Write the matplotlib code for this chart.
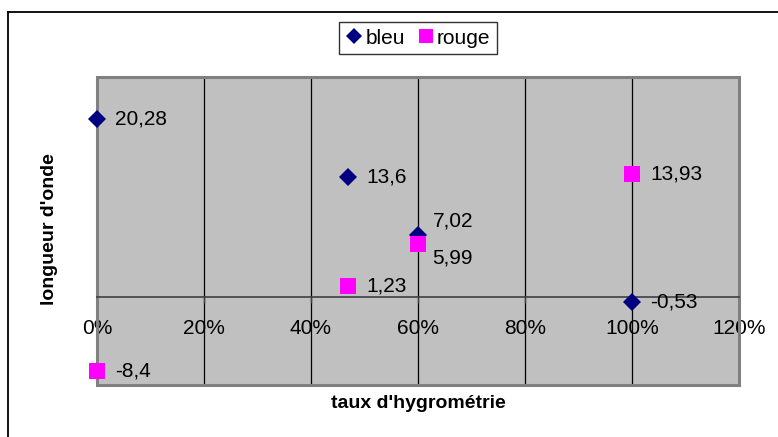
import matplotlib
matplotlib.use("Agg")
import matplotlib.pyplot as plt
from matplotlib.lines import Line2D
from matplotlib.patches import Rectangle

plt.rcParams["font.family"] = ["Liberation Sans", "DejaVu Sans"]

# ---- data ------------------------------------------------------------------
bleu_x = [0.0, 0.47, 0.60, 1.00]
bleu_y = [20.28, 13.6, 7.02, -0.53]
rouge_x = [0.0, 0.47, 0.60, 1.00]
rouge_y = [-8.4, 1.23, 5.99, 13.93]

x_ticks = [0.0, 0.2, 0.4, 0.6, 0.8, 1.0, 1.2]
x_ticklabels = ["0%", "20%", "40%", "60%", "80%", "100%", "120%"]

# label offsets (points) -- Excel "right" position, two moved by hand
bleu_off = [(13, 0), (13, 0), (11, 10), (13, 0)]
rouge_off = [(13, 0), (13, 0), (10, -10), (13, 0)]


def fr(v):
    return str(v).replace(".", ",")


# ---- plot ------------------------------------------------------------------
fig = plt.figure(figsize=(7.78, 4.37), dpi=100)
ax = fig.add_axes([97 / 778, 52 / 437, 642 / 778, 308 / 437])
ax.set_facecolor("#C0C0C0")
ax.set_xlim(0, 1.2)
ax.set_ylim(-10, 25)

ax.grid(axis="x", color="black", lw=0.9, zorder=1)
ax.set_axisbelow(True)

ax.plot(bleu_x, bleu_y, ls="none", marker="D", ms=9.6, color="#000080",
        mec="#000080", mew=0, label="bleu", zorder=3, clip_on=False)
ax.plot(rouge_x, rouge_y, ls="none", marker="s", ms=11.2, color="#FF00FF",
        mec="#FF00FF", mew=0, label="rouge", zorder=4, clip_on=False)

for x, y, off in zip(bleu_x, bleu_y, bleu_off):
    ax.annotate(fr(y), (x, y), xytext=off, textcoords="offset points",
                ha="left", va="center", fontsize=15, zorder=5)
for x, y, off in zip(rouge_x, rouge_y, rouge_off):
    ax.annotate(fr(y), (x, y), xytext=off, textcoords="offset points",
                ha="left", va="center", fontsize=15, zorder=5)

# x axis crosses at y=0, y axis hidden
for s in ["left", "right", "top"]:
    ax.spines[s].set_visible(False)
ax.spines["bottom"].set_position(("data", 0))
ax.spines["bottom"].set_color("#404040")
ax.spines["bottom"].set_linewidth(1.2)
ax.set_xticks(x_ticks)
ax.set_xticklabels(x_ticklabels)
ax.tick_params(axis="x", direction="out", length=4, width=1, color="#404040",
               pad=12, labelsize=15)
ax.set_yticks([])

# plot-area border
ax.add_patch(Rectangle((0, 0), 1, 1, transform=ax.transAxes, fill=False,
                       ec="#808080", lw=2.2, zorder=2, clip_on=False))

fig.text(418 / 778, 1 - 404 / 437, "taux d'hygrométrie", ha="center",
         va="center", fontsize=14, fontweight="bold")
fig.text(50 / 778, 1 - 229 / 437, "longueur d'onde", ha="center",
         va="center", rotation=90, fontsize=14, fontweight="bold")

leg = fig.legend(loc="center", bbox_to_anchor=(418 / 778, 1 - 38 / 437),
                 ncol=2, fontsize=15, frameon=True, fancybox=False,
                 edgecolor="black", handlelength=0.8, handletextpad=0.15,
                 columnspacing=0.6, borderpad=0.3, markerscale=0.9)
leg.get_frame().set_linewidth(1.0)

# outer chart frame (only top and left edges fall inside the picture)
fig.add_artist(Line2D([8 / 778, 1.0], [1 - 12 / 437, 1 - 12 / 437],
                      transform=fig.transFigure, color="black", lw=1.3))
fig.add_artist(Line2D([8 / 778, 8 / 778], [0.0, 1 - 12 / 437],
                      transform=fig.transFigure, color="black", lw=1.3))

fig.savefig("out.png", dpi=100)
